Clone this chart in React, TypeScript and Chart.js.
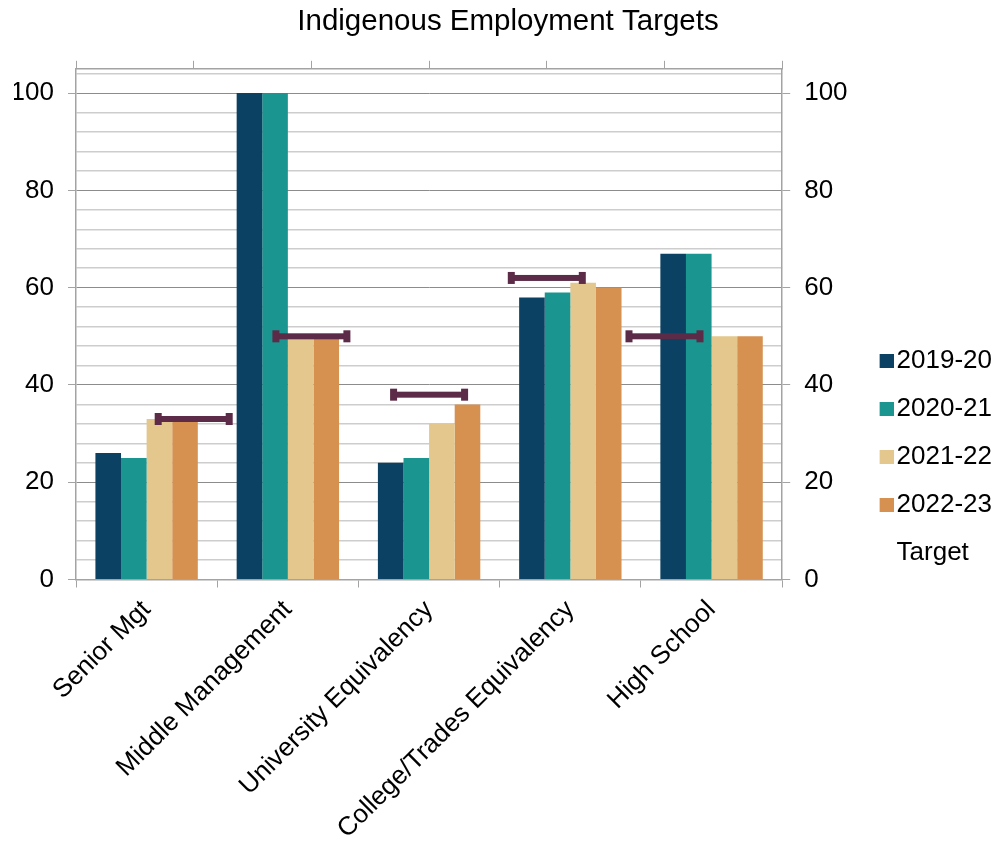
import React, { useEffect, useRef } from "react";
import { Chart, registerables } from "chart.js";

Chart.register(...registerables);

// ---- data ----
const chartTitle = "Indigenous Employment Targets";
const categories = [
  "Senior Mgt",
  "Middle Management",
  "University Equivalency",
  "College/Trades Equivalency",
  "High School",
];
const seriesLabels = ["2019-20", "2020-21", "2021-22", "2022-23"];
const values2019_20 = [26, 100, 24, 58, 67];
const values2020_21 = [25, 100, 25, 59, 67];
const values2021_22 = [33, 50, 32, 61, 50];
const values2022_23 = [33, 50, 36, 60, 50];
const targetLabel = "Target";
const targetValues = [33, 50, 38, 62, 50];
// positions of the target markers on the secondary (top) axis, which has 6 divisions
const targetPositions = [1, 2, 3, 4, 5];
const topAxisMax = 6;
const yTickLabels = [0, 20, 40, 60, 80, 100];
const yMax = 105;
const yMinorStep = 4;

// ---- style ----
const FONT = "'Liberation Sans', Arial, Helvetica, sans-serif";
const seriesColors = ["#0B4162", "#1A958F", "#E3C78D", "#D69151"];
const targetColor = "#5C2B47";
const axisColor = "#a3a3a3";
const majorGrid = "#8c8c8c";
const minorGrid = "#cdcdcd";

const targetBars = {
  id: "targetBars",
  afterDatasetsDraw(chart: any) {
    const xs = chart.scales.x2;
    const ys = chart.scales.y;
    if (!xs || !ys) return;
    const ctx = chart.ctx;
    ctx.save();
    ctx.fillStyle = targetColor;
    targetValues.forEach((v, i) => {
      const x = xs.getPixelForValue(targetPositions[i]);
      const y = ys.getPixelForValue(v);
      ctx.fillRect(x - 36, y - 3, 72, 6);
      ctx.fillRect(x - 39, y - 6, 7, 12);
      ctx.fillRect(x + 32, y - 6, 7, 12);
    });
    ctx.restore();
  },
};

function makeIcon(color: string | null) {
  const c = document.createElement("canvas");
  c.width = 20;
  c.height = 14;
  const g = c.getContext("2d");
  if (g && color) {
    g.fillStyle = color;
    g.fillRect(6, 0, 14, 14);
  }
  return c;
}

export default function App() {
  const canvasRef = useRef<HTMLCanvasElement | null>(null);

  useEffect(() => {
    if (!canvasRef.current) return;
    const seriesValues = [values2019_20, values2020_21, values2021_22, values2022_23];
    const icons = seriesColors.map((c) => makeIcon(c));
    const blankIcon = makeIcon(null);

    const majorTick = (v: number) => yTickLabels.includes(v);

    const buildYTicks = (scale: any) => {
      const t: any[] = [];
      for (let v = 0; v <= yMax - 1; v += yMinorStep) t.push({ value: v });
      scale.ticks = t;
    };

    const chart = new Chart(canvasRef.current, {
      type: "bar",
      data: {
        labels: categories,
        datasets: seriesLabels.map((label, i) => ({
          label,
          data: seriesValues[i],
          backgroundColor: seriesColors[i],
          borderWidth: 0,
          xAxisID: "x",
          yAxisID: "y",
          categoryPercentage: 0.725,
          barPercentage: 1.0,
        })),
      },
      options: {
        animation: false,
        responsive: true,
        maintainAspectRatio: false,
        devicePixelRatio: 1,
        layout: { padding: { left: 14, right: 0, top: 0, bottom: 0 } },
        plugins: {
          title: {
            display: true,
            text: chartTitle,
            color: "#000",
            font: { family: FONT, size: 29.5, weight: "normal" },
            padding: { top: 4.5, bottom: 20.9 },
          },
          legend: {
            position: "right",
            align: "center",
            title: {
              display: true,
              text: "",
              font: { size: 10 },
              padding: { top: 0, bottom: 58 },
            },
            labels: {
              usePointStyle: true,
              boxWidth: 0.01,
              boxHeight: 14,
              padding: 22,
              color: "#000",
              font: { family: FONT, size: 26 },
              generateLabels: (ch: any) => [
                ...ch.data.datasets.map((ds: any, i: number) => ({
                  text: ds.label,
                  fillStyle: "transparent",
                  strokeStyle: "transparent",
                  lineWidth: 0,
                  pointStyle: icons[i],
                  hidden: false,
                  datasetIndex: i,
                  fontColor: "#000",
                })),
                {
                  text: targetLabel,
                  fillStyle: "transparent",
                  strokeStyle: "transparent",
                  lineWidth: 0,
                  pointStyle: blankIcon,
                  hidden: false,
                  fontColor: "#000",
                },
              ],
            },
          },
          tooltip: { enabled: false },
        },
        scales: {
          x: {
            type: "category",
            position: "bottom",
            offset: true,
            afterFit: (scale: any) => {
              scale.height = scale.height - 7.8;
            },
            grid: {
              drawOnChartArea: false,
              offset: true,
              tickLength: 8,
              color: axisColor,
            },
            border: { color: axisColor, width: 1.5 },
            ticks: {
              color: "#000",
              font: { family: FONT, size: 26 },
              minRotation: 45,
              maxRotation: 45,
              autoSkip: false,
              padding: 7,
            },
          },
          x2: {
            type: "linear",
            position: "top",
            display: true,
            min: 0,
            max: topAxisMax,
            offset: false,
            grid: {
              drawOnChartArea: false,
              offset: false,
              tickLength: 8,
              color: axisColor,
            },
            border: { color: axisColor, width: 1.5 },
            ticks: { display: false, stepSize: 1 },
          },
          y: {
            type: "linear",
            position: "left",
            min: 0,
            max: yMax,
            afterBuildTicks: buildYTicks,
            afterFit: (scale: any) => {
              scale.width = 62;
            },
            grid: {
              color: (c: any) => (c.tick && majorTick(c.tick.value) ? majorGrid : minorGrid),
              lineWidth: (c: any) => (c.tick && majorTick(c.tick.value) ? 1 : 1.5),
              tickColor: (c: any) => (c.tick && majorTick(c.tick.value) ? axisColor : "rgba(0,0,0,0)"),
              tickLength: 8,
            },
            border: { color: axisColor, width: 1.5 },
            ticks: {
              autoSkip: false,
              color: "#000",
              padding: 14,
              font: { family: FONT, size: 26 },
              callback: (v: any) => (majorTick(Number(v)) ? String(v) : ""),
            },
          },
          y2: {
            type: "linear",
            position: "right",
            display: true,
            min: 0,
            max: yMax,
            afterBuildTicks: buildYTicks,
            grid: {
              drawOnChartArea: false,
              tickColor: (c: any) => (c.tick && majorTick(c.tick.value) ? axisColor : "rgba(0,0,0,0)"),
              tickLength: 8,
            },
            border: { color: axisColor, width: 1.5 },
            ticks: {
              autoSkip: false,
              color: "#000",
              padding: 14,
              font: { family: FONT, size: 26 },
              callback: (v: any) => (majorTick(Number(v)) ? String(v) : ""),
            },
          },
        },
      } as any,
      plugins: [targetBars],
    });

    return () => chart.destroy();
  }, []);

  return (
    <div
      style={{
        position: "fixed",
        left: 0,
        top: 0,
        width: 1002,
        height: 844,
        background: "#fff",
      }}
    >
      <canvas ref={canvasRef} />
    </div>
  );
}
